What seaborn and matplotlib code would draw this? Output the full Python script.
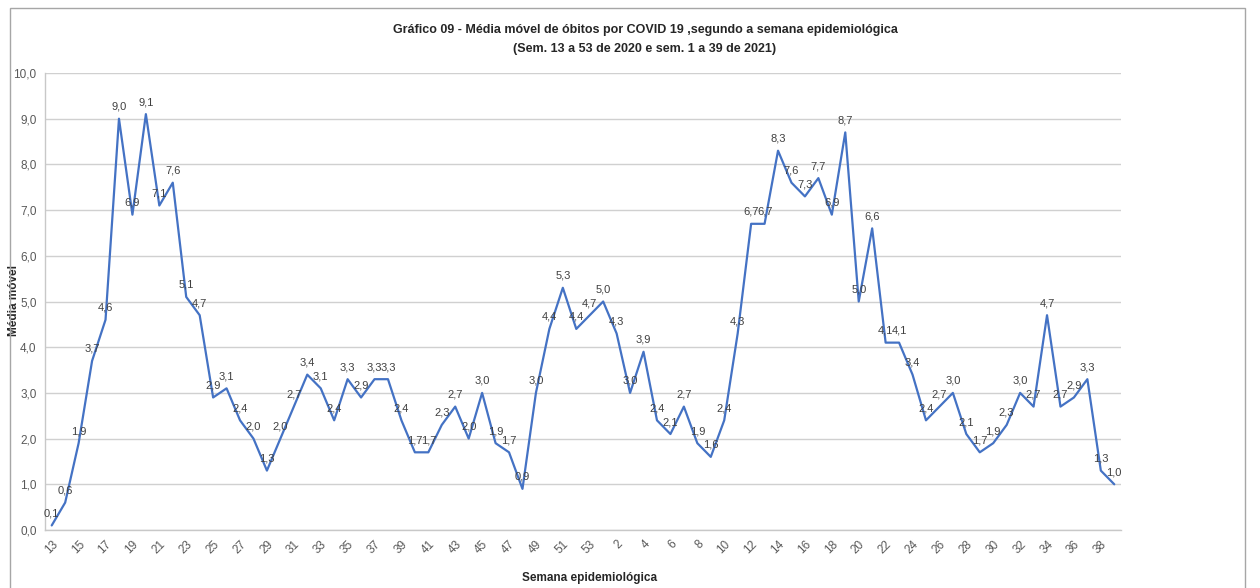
import matplotlib
matplotlib.use("Agg")
import matplotlib.pyplot as plt
import seaborn as sns
import pandas as pd
from matplotlib.patches import Rectangle

# dados
semanas_2020 = list(range(13, 54))
semanas_2021 = list(range(1, 40))
media_2020 = [0.1, 0.6, 1.9, 3.7, 4.6, 9.0, 6.9, 9.1, 7.1, 7.6,
              5.1, 4.7, 2.9, 3.1, 2.4, 2.0, 1.3, 2.0, 2.7, 3.4,
              3.1, 2.4, 3.3, 2.9, 3.3, 3.3, 2.4, 1.7, 1.7, 2.3,
              2.7, 2.0, 3.0, 1.9, 1.7, 0.9, 3.0, 4.4, 5.3, 4.4,
              4.7]
media_2021 = [5.0, 4.3, 3.0, 3.9, 2.4, 2.1, 2.7, 1.9, 1.6, 2.4,
              4.3, 6.7, 6.7, 8.3, 7.6, 7.3, 7.7, 6.9, 8.7, 5.0,
              6.6, 4.1, 4.1, 3.4, 2.4, 2.7, 3.0, 2.1, 1.7, 1.9,
              2.3, 3.0, 2.7, 4.7, 2.7, 2.9, 3.3, 1.3, 1.0]
y_ticks = [0, 1, 2, 3, 4, 5, 6, 7, 8, 9, 10]

semanas = semanas_2020 + semanas_2021
valores = media_2020 + media_2021
df = pd.DataFrame({"pos": range(len(semanas)), "semana": semanas, "media": valores})

sns.set_style("white")
plt.rcParams["font.family"] = ["Liberation Sans", "DejaVu Sans"]

W, H = 1260, 588
fig = plt.figure(figsize=(W / 100, H / 100), dpi=100)
ax = fig.add_axes([45 / W, 1 - 530 / H, (1121 - 45) / W, (530 - 73) / H])

sns.lineplot(data=df, x="pos", y="media", color="#4472C4", linewidth=1.6, ax=ax)

# rótulos de dados
for p, v in zip(df["pos"], df["media"]):
    ax.annotate(f"{v:.1f}".replace(".", ","), (p, v), xytext=(0, 5),
                textcoords="offset points", ha="center", va="bottom",
                fontsize=8, color="#404040")

ax.set_xlim(-0.5, len(semanas) - 0.5)
ax.set_ylim(0, 10)
ax.set_yticks(y_ticks)
ax.set_yticklabels([f"{t:.1f}".replace(".", ",") for t in y_ticks],
                   fontsize=8.5, color="#595959")
ax.yaxis.grid(True, color="#d0d0d0", linewidth=1)
ax.xaxis.grid(False)

lab_pos = list(range(0, len(semanas), 2))
ax.set_xticks(lab_pos)
ax.set_xticklabels([str(semanas[i]) for i in lab_pos], rotation=45,
                   ha="right", rotation_mode="anchor", fontsize=8.5, color="#595959")
ax.set_xticks([i - 0.5 for i in range(len(semanas) + 1)], minor=True)
ax.tick_params(axis="x", which="major", length=0, pad=6)
ax.tick_params(axis="x", which="minor", length=4, color="#c8c8c8", width=1)
ax.tick_params(axis="y", length=4, color="#c8c8c8", width=1, pad=2)

for s in ["top", "right"]:
    ax.spines[s].set_visible(False)
for s in ["left", "bottom"]:
    ax.spines[s].set_color("#c8c8c8")
    ax.spines[s].set_linewidth(1)

ax.set_xlabel("Semana epidemiológica", fontsize=8.5, fontweight="bold")
ax.set_ylabel("Média móvel", fontsize=8.5, fontweight="bold")
ax.xaxis.set_label_coords((590 - 45) / (1121 - 45), -(572 - 530) / (530 - 73))
ax.yaxis.set_label_coords(-(45 - 20) / (1121 - 45), (530 - 300) / (530 - 73))

fig.text(645 / W, 1 - 30 / H, "Gráfico 09 - Média móvel de óbitos por COVID 19 ,segundo a semana epidemiológica",
         ha="center", va="center", fontsize=9, fontweight="bold")
fig.text(645 / W, 1 - 49 / H, "(Sem. 13 a 53 de 2020 e sem. 1 a 39 de 2021)",
         ha="center", va="center", fontsize=9, fontweight="bold")

# moldura do gráfico
fig.patches.append(Rectangle((10 / W, -0.01), (1245 - 10) / W, 1 - 8 / H + 0.01,
                             transform=fig.transFigure, fill=False,
                             edgecolor="#a6a6a6", linewidth=1))

fig.savefig("out.png", dpi=100)
